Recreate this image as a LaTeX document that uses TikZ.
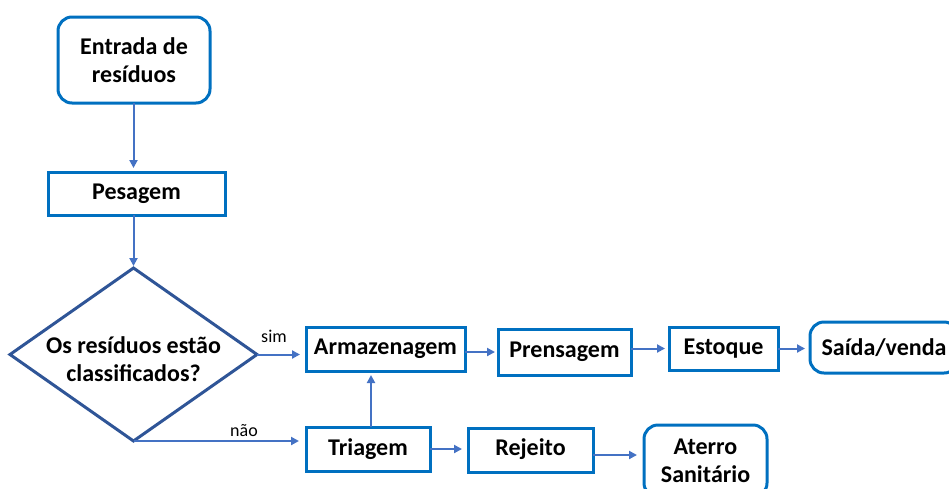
\documentclass[tikz,border=0pt]{standalone}
\usepackage{fontspec}
\setmainfont{Carlito}
\usetikzlibrary{arrows.meta,shapes.geometric}
\definecolor{boxblue}{HTML}{0070C0}
\definecolor{arrblue}{HTML}{4472C4}
\definecolor{diablue}{HTML}{2F5597}
\begin{document}
\begin{tikzpicture}[x=1pt,y=-1pt,
  every node/.style={inner sep=0pt,outer sep=0pt},
  txt/.style={font=\fontsize{24}{27.5}\selectfont\bfseries,align=center,text=black},
  boxs/.style={txt,draw=boxblue,line width=3pt,fill=white,rectangle},
  rboxs/.style={boxs,rounded corners=14pt},
  arr/.style={draw=arrblue,line width=2pt,-{Triangle[length=8pt,width=8pt]}},
  lbl/.style={font=\fontsize{18}{20}\selectfont,text=black}]
\useasboundingbox (0,0) rectangle (949,488);
\node[rboxs,minimum width=152pt,minimum height=86pt] (entrada) at (134,60) {Entrada de\\resíduos};
\node[boxs,minimum width=177pt,minimum height=43pt] (pesagem) at (136.5,193.5) {Pesagem};
\node[txt,diamond,draw=diablue,line width=3pt,minimum width=247pt,minimum height=173pt,shape aspect=1.43] (dec) at (133.5,354.5) {};
\node[txt] (dectext) at (133.5,359) {Os resíduos estão\\classificados?};
\node[boxs,minimum width=159pt,minimum height=44pt] (armaz) at (385.5,349) {\raisebox{-2pt}{Armazenagem}};
\node[boxs,minimum width=133pt,minimum height=46pt] (prens) at (564.5,352) {Prensagem};
\node[boxs,minimum width=109pt,minimum height=43pt] (estoque) at (723.5,348.5) {\raisebox{-1pt}{Estoque}};
\node[rboxs,minimum width=148pt,minimum height=51pt] (saida) at (884,347.5) {Saída/venda};
\node[boxs,minimum width=124pt,minimum height=44pt] (triagem) at (368,449) {\raisebox{-1pt}{Triagem}};
\node[boxs,minimum width=125pt,minimum height=44pt] (rejeito) at (530.5,450) {\raisebox{6pt}{Rejeito}};
\node[rboxs,minimum width=123pt,minimum height=72pt] (aterro) at (705.5,461) {Aterro\\Sanitário};
\draw[arr,shorten >=4pt] (entrada.south -| dec.north) -- (pesagem.north -| dec.north);
\draw[arr,shorten >=2pt] (pesagem.south -| dec.north) -- (dec.north);
\draw[arr,shorten >=6pt] (dec.east) -- (dec.east -| armaz.west);
\node[lbl] (sim) at (274,336) {sim};
\draw[arr,shorten >=7pt] (dec.south) -- (dec.south -| triagem.west);
\node[lbl] (nao) at (244,431) {não};
\draw[arr,shorten >=4pt] ([xshift=3pt]triagem.north) -- ([xshift=3pt]triagem.north |- armaz.south);
\draw[arr,shorten >=3pt] (armaz.east |- prens.west) -- (prens.west);
\draw[arr,shorten >=4pt] (prens.east |- estoque.west) -- (estoque.west);
\draw[arr,shorten >=5pt] (estoque.east) -- (estoque.east -| saida.west);
\draw[arr,shorten >=6pt] (triagem.east) -- (triagem.east -| rejeito.west);
\draw[arr,shorten >=7pt] ([yshift=-5pt]rejeito.east) -- ([yshift=-5pt]rejeito.east -| aterro.west);
\end{tikzpicture}
\end{document}
